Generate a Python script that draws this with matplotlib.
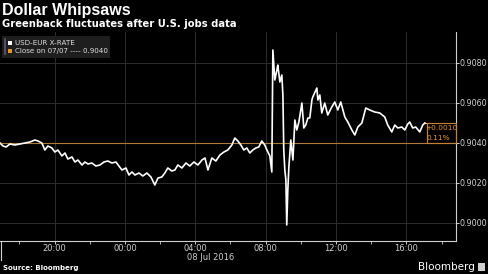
import matplotlib
matplotlib.use("Agg")
import matplotlib.pyplot as plt
import numpy as np

# Data: hours relative to 08 Jul 2016 00:00, USD-EUR rate
hours = [-7.10, -6.93, -6.76, -6.53, -6.25, -5.97, -5.68, -5.40, -5.11, -4.94,
         -4.72, -4.55, -4.38, -4.15, -3.98, -3.81, -3.58, -3.41, -3.24, -3.01,
         -2.84, -2.67, -2.44, -2.27, -2.10, -1.88, -1.65, -1.42, -1.19, -0.97,
         -0.74, -0.51, -0.34, -0.17, 0.06, 0.23, 0.40, 0.57, 0.80, 1.02,
         1.25, 1.48, 1.70, 1.88, 2.10, 2.27, 2.44, 2.67, 2.84, 3.01,
         3.24, 3.47, 3.69, 3.92, 4.15, 4.38, 4.55, 4.72, 4.94, 5.17,
         5.40, 5.63, 5.85, 6.08, 6.25, 6.42, 6.59, 6.76, 6.93, 7.10,
         7.27, 7.44, 7.61, 7.78, 7.95, 8.07, 8.24, 8.35, 8.41, 8.52,
         8.64, 8.69, 8.81, 8.92, 8.98, 9.03, 9.09, 9.15, 9.20, 9.26,
         9.32, 9.43, 9.55, 9.66, 9.77, 9.89, 10.06, 10.17, 10.28, 10.40,
         10.51, 10.63, 10.68, 10.91, 10.97, 11.08, 11.19, 11.36, 11.53, 11.76,
         11.93, 12.10, 12.27, 12.50, 12.67, 12.90, 13.07, 13.24, 13.47, 13.69,
         13.92, 14.20, 14.49, 14.77, 14.94, 15.17, 15.34, 15.51, 15.74, 15.91,
         16.08, 16.19, 16.36, 16.53, 16.76, 16.93, 17.05]
rates = [.90400, .90385, .90380, .90395, .90390, .90395, .90400, .90405, .90415, .90410,
         .90400, .90365, .90385, .90375, .90355, .90365, .90335, .90350, .90320, .90330,
         .90305, .90315, .90290, .90305, .90295, .90300, .90285, .90290, .90305, .90310,
         .90300, .90305, .90285, .90265, .90275, .90240, .90255, .90240, .90250, .90235,
         .90250, .90230, .90190, .90225, .90230, .90250, .90275, .90260, .90265, .90290,
         .90275, .90300, .90285, .90305, .90290, .90315, .90325, .90265, .90325, .90310,
         .90340, .90355, .90365, .90390, .90425, .90410, .90390, .90365, .90375, .90350,
         .90365, .90375, .90380, .90410, .90390, .90365, .90335, .90255, .90865, .90715,
         .90765, .90790, .90705, .90740, .90640, .90365, .90265, .90215, .89990, .90165,
         .90280, .90415, .90315, .90515, .90465, .90505, .90600, .90475, .90490, .90525,
         .90525, .90615, .90630, .90675, .90615, .90640, .90550, .90600, .90540, .90580,
         .90605, .90565, .90605, .90530, .90505, .90465, .90440, .90480, .90500, .90575,
         .90565, .90555, .90550, .90530, .90490, .90455, .90490, .90475, .90480, .90465,
         .90495, .90505, .90475, .90480, .90455, .90490, .90500]
prev_close = 0.9040
change_text = "+0.0010"
pct_text = "0.11%"
y_ticks = [0.9000, 0.9020, 0.9040, 0.9060, 0.9080]
x_major = [-4, 0, 4, 8, 12, 16]
x_major_labels = ["20:00", "00:00", "04:00", "08:00", "12:00", "16:00"]
x_minor = [-6, -2, 2, 6, 10, 14, 18]

W, H = 488, 274
fig = plt.figure(figsize=(W / 100, H / 100), dpi=100, facecolor="black")
ax = fig.add_axes([0, 1 - 241 / H, 456 / W, (241 - 32) / H], facecolor="black")

grid_c = "#2e2e2e"
for yt in y_ticks:
    ax.axhline(yt, color=grid_c, lw=0.7, zorder=0)
for xt in x_major:
    ax.axvline(xt, color=grid_c, lw=0.7, zorder=0)

ax.axhline(prev_close, color="#b07a3a", lw=0.8, zorder=1)
ax.plot(hours, rates, color="white", lw=1.2, zorder=3)

xmin, xmax = -7.10, 18.82
ax.set_xlim(xmin, xmax)
ax.set_ylim(0.89910, 0.90955)

for s in ["top", "left"]:
    ax.spines[s].set_visible(False)
ax.spines["right"].set_color("#d0d0d0")
ax.spines["bottom"].set_color("#d0d0d0")
ax.spines["right"].set_linewidth(0.8)
ax.spines["bottom"].set_linewidth(0.8)

ax.yaxis.tick_right()
ax.set_yticks(y_ticks)
ax.set_yticklabels([f"{v:.4f}" for v in y_ticks])
ax.tick_params(axis="y", colors="#d0d0d0", labelsize=5.8, length=2, width=0.7, pad=0.5)
ax.set_xticks(x_major)
ax.set_xticklabels(x_major_labels)
ax.set_xticks(x_minor, minor=True)
ax.tick_params(axis="x", which="major", colors="#d0d0d0", labelsize=6, length=2, width=0.7, pad=0.5)
ax.tick_params(axis="x", which="minor", colors="#d0d0d0", length=2, width=0.6)

# day label
fig.text(211 / W, 1 - 258 / H, "08 Jul 2016", color="#d0d0d0", fontsize=6,
         ha="center", va="center")
# left day boundary marker
fig.add_artist(plt.Line2D([1 / W, 1 / W], [1 - 241 / H, 1 - 260 / H],
                          color="#d0d0d0", lw=0.8))

# change annotation
last_h, last_v = hours[-1], rates[-1]
box_left = 17.2
ax.plot([last_h, box_left], [last_v, last_v], color="white", lw=0.6, zorder=3)
ax.add_patch(plt.Rectangle((box_left, prev_close), xmax - box_left, last_v - prev_close,
                           fill=False, edgecolor="#c9822b", lw=0.8, zorder=4,
                           clip_on=False))
mid_x = (box_left + xmax) / 2
ax.text(mid_x, last_v - 0.00025, change_text, color="#e8952e", fontsize=5.3,
        ha="center", va="center", zorder=5)
ax.text(mid_x - 0.2, prev_close + 0.00025, pct_text, color="#e8952e", fontsize=5.3,
        ha="center", va="center", zorder=5)

# legend box
fig.add_artist(plt.Rectangle((2 / W, 1 - 58 / H), 108 / W, 22 / H,
                             transform=fig.transFigure, facecolor="#1e1e1e",
                             edgecolor="none"))
fig.add_artist(plt.Line2D([5 / W, 5 / W], [1 - 39 / H, 1 - 54 / H], color="#5a5a7a", lw=1.2))
fig.add_artist(plt.Rectangle((8 / W, 1 - 45 / H), 4 / W, 4 / H, transform=fig.transFigure,
                             facecolor="white", edgecolor="none"))
fig.add_artist(plt.Rectangle((8 / W, 1 - 53 / H), 4 / W, 4 / H, transform=fig.transFigure,
                             facecolor="#e8952e", edgecolor="none"))
fig.text(15 / W, 1 - 43 / H, "USD-EUR X-RATE", color="#e0e0e0", fontsize=5.1, va="center")
fig.text(15 / W, 1 - 51 / H, "Close on 07/07 ---- 0.9040", color="#e0e0e0", fontsize=5.1, va="center")

# titles
fig.text(2 / W, 1 - 10 / H, "Dollar Whipsaws", color="white", fontsize=11.5,
         fontweight="bold", family="Liberation Sans", va="center")
fig.text(2 / W, 1 - 24 / H, "Greenback fluctuates after U.S. jobs data", color="white",
         fontsize=7.2, fontweight="bold", family="DejaVu Sans", va="center")
fig.text(3 / W, 1 - 268 / H, "Source: Bloomberg", color="white", fontsize=5,
         fontweight="bold", va="center")
fig.text(475 / W, 1 - 267 / H, "Bloomberg", color="white", fontsize=7.5,
         ha="right", va="center")
fig.add_artist(plt.Rectangle((478 / W, 1 - 271 / H), 7 / W, 8 / H, transform=fig.transFigure,
                             facecolor="#d0d0d0", edgecolor="none"))

fig.savefig("out.png", dpi=100, facecolor="black")
